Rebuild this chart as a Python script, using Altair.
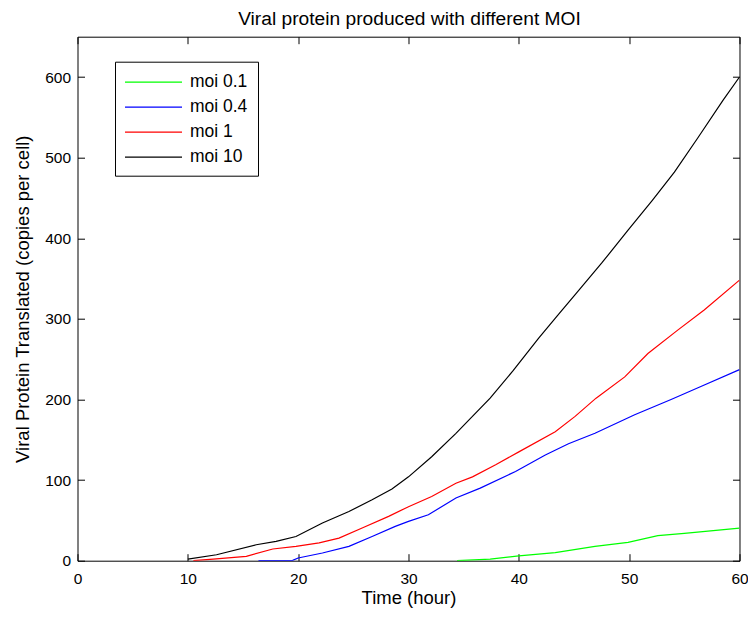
import altair as alt
import pandas as pd

series_names = ["moi 0.1", "moi 0.4", "moi 1", "moi 10"]
series_colors = ["#00ff00", "#0000ff", "#ff0000", "#000000"]

t_moi01 = [34.4, 37.4, 40.0, 43.3, 46.9, 49.9, 52.6, 55.0, 60.0]
v_moi01 = [0, 2, 6, 10, 17.7, 22.7, 31, 34, 40.5]

t_moi04 = [16.4, 19.5, 20.0, 22.2, 24.6, 26.7, 28.8, 30.0, 31.8, 34.3, 36.5,
           39.7, 42.4, 44.5, 46.9, 50.5, 53.8, 56.5, 60.0]
v_moi04 = [0, 0.5, 3.3, 9.5, 17.7, 30, 42.5, 48.7, 57, 77.7, 90,
           110.7, 131, 145, 158, 181, 200, 216, 237]

t_moi1 = [10.5, 12.3, 15.3, 17.7, 19.8, 21.9, 23.7, 25.8, 28.2, 30.0, 32.1, 34.3,
          35.8, 37.9, 40.0, 43.3, 45.1, 47.0, 49.6, 51.7, 54.4, 56.8, 60.0]
v_moi1 = [0, 2, 5.4, 14.5, 17.7, 22, 28, 40.5, 55, 67, 79.7, 96,
          104, 119, 135, 160, 179, 201.6, 228, 257, 286, 311, 348]

t_moi10 = [10.0, 12.6, 16.2, 18.0, 19.8, 22.2, 24.6, 26.7, 28.5, 30.0, 32.1, 34.3,
           37.4, 39.5, 41.8, 43.5, 45.2, 47.5, 49.9, 52.1, 54.1, 56.2, 58.5, 60.0]
v_moi10 = [2, 7.4, 19.8, 24, 30, 46.7, 61, 75.6, 89, 104, 129, 158,
           201.6, 236, 276, 304, 331.7, 369, 410, 447, 482, 524, 571, 600]

x_ticks = [0, 10, 20, 30, 40, 50, 60]
y_ticks = [0, 100, 200, 300, 400, 500, 600]

all_t = [t_moi01, t_moi04, t_moi1, t_moi10]
all_v = [v_moi01, v_moi04, v_moi1, v_moi10]

rows = []
for name, ts, vs in zip(series_names, all_t, all_v):
    for t, v in zip(ts, vs):
        rows.append({"series": name, "time": t, "value": v})
df = pd.DataFrame(rows)

FONT = "Liberation Sans"
xscale = alt.Scale(domain=[0, 60], nice=False, zero=False)
yscale = alt.Scale(domain=[0, 650], nice=False)

base = alt.Chart(df)

main = base.mark_line(strokeWidth=1.2, clip=True).encode(
    x=alt.X("time:Q", scale=xscale,
            axis=alt.Axis(orient="bottom", values=x_ticks, title="Time (hour)",
                          offset=-7, tickSize=7, domain=False, grid=False,
                          labelPadding=11, titlePadding=1.5, format="d",
                          labelFlush=False, labelOverlap=False)),
    y=alt.Y("value:Q", scale=yscale,
            axis=alt.Axis(orient="left", values=y_ticks,
                          title="Viral Protein Translated (copies per cell)",
                          offset=-7, tickSize=7, domain=False, grid=False,
                          labelPadding=7, titlePadding=12, format="d",
                          labelFlush=False, labelOverlap=False)),
    color=alt.Color("series:N",
                    scale=alt.Scale(domain=series_names, range=series_colors),
                    legend=alt.Legend(title=None, orient="none", legendX=37.5, legendY=25,
                                      symbolType="M-3,0H3", symbolSize=361,
                                      symbolStrokeWidth=1.3, symbolOffset=18,
                                      labelOffset=26, labelFontSize=17.5, labelFont=FONT,
                                      labelColor="black", padding=10, rowPadding=6.0,
                                      strokeColor="black", fillColor="white")),
)

frame_ticks = base.mark_line(opacity=0).encode(
    x=alt.X("time:Q", scale=xscale,
            axis=alt.Axis(orient="top", values=x_ticks, title=None, labels=False,
                          offset=-7, tickSize=7, domain=False, grid=False)),
    y=alt.Y("value:Q", scale=yscale,
            axis=alt.Axis(orient="right", values=y_ticks, title=None, labels=False,
                          offset=-7, tickSize=7, domain=False, grid=False)),
    detail="series:N",
)

chart = alt.layer(main, frame_ticks).resolve_axis(
    x="independent", y="independent"
).properties(
    width=662, height=524,
    title=alt.TitleParams(text="Viral protein produced with different MOI",
                          fontSize=19.2, font=FONT, fontWeight="normal",
                          anchor="middle", offset=7, color="black", dx=1),
    padding={"left": 69.5, "top": 28.7, "right": 8.5, "bottom": 47},
    autosize=alt.AutoSizeParams(type="none"),
).configure_view(
    stroke="black", strokeWidth=1
).configure_axis(
    labelFont=FONT, titleFont=FONT, labelFontSize=15.5, titleFontSize=18.5,
    labelColor="black", titleColor="black", tickColor="black", tickWidth=1,
    titleFontWeight="normal"
)

chart.save("out.html", embed_options={"renderer": "svg", "actions": False})
